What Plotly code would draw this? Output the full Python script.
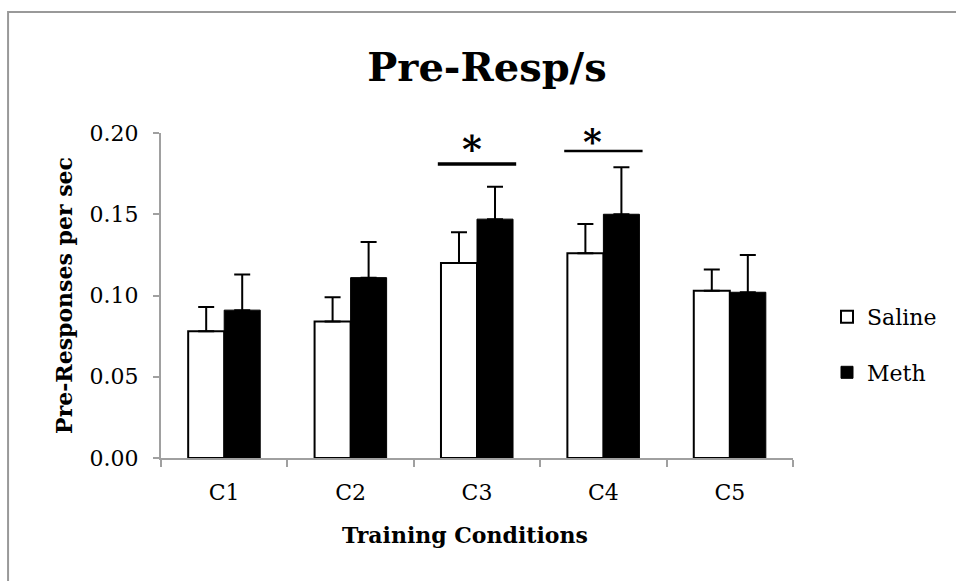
import plotly.graph_objects as go

categories = ["C1", "C2", "C3", "C4", "C5"]
saline = [0.078, 0.084, 0.120, 0.126, 0.103]
saline_err = [0.015, 0.015, 0.019, 0.018, 0.013]
meth = [0.091, 0.111, 0.147, 0.150, 0.102]
meth_err = [0.022, 0.022, 0.020, 0.029, 0.023]
y_ticks = [0.00, 0.05, 0.10, 0.15, 0.20]
sig_categories = ["C3", "C4"]
sig_heights = [0.181, 0.189]

FONT = "DejaVu Serif"
GRAY = "#a0a0a0"

fig = go.Figure()
fig.add_trace(go.Bar(
    name="Saline", x=categories, y=saline, legendgroup="s",
    marker=dict(color="white", line=dict(color="black", width=2)),
    error_y=dict(type="data", symmetric=False, array=saline_err,
                 arrayminus=[0] * len(saline), color="black", thickness=2, width=8),
))
fig.add_trace(go.Bar(
    name="Meth", x=categories, y=meth, legendgroup="m",
    marker=dict(color="black", line=dict(color="black", width=1)),
    error_y=dict(type="data", symmetric=False, array=meth_err,
                 arrayminus=[0] * len(meth), color="black", thickness=2, width=8),
))

shapes = []
annotations = []
line_widths = [3.5, 2.5]
star_dx = [-0.037, -0.085]
star_shift = [-9, -13]
star_sizes = [38, 36]
for cat, h, lw, dx, sh, ss in zip(sig_categories, sig_heights, line_widths,
                                  star_dx, star_shift, star_sizes):
    i = categories.index(cat)
    shapes.append(dict(type="line", xref="x", yref="y", x0=i - 0.31, x1=i + 0.31,
                       y0=h, y1=h, line=dict(color="black", width=lw)))
    annotations.append(dict(text="<b>*</b>", xref="x", yref="y", x=i + dx, y=h,
                            yanchor="bottom", xanchor="center", showarrow=False,
                            yshift=sh, font=dict(family=FONT, size=ss, color="black")))

# chart frame (left and top edges visible)
shapes.append(dict(type="rect", xref="paper", yref="paper",
                   x0=-0.242, x1=1.6, y0=-1.0, y1=1.372,
                   line=dict(color="#999999", width=2), layer="below"))

annotations.append(dict(text="<b>Training Conditions</b>", xref="paper", yref="paper",
                        x=(465 - 161) / 632, y=-(535 - 458) / 325, xanchor="center",
                        yanchor="middle", showarrow=False,
                        font=dict(family=FONT, size=22, color="black")))

fig.update_layout(
    width=956, height=581,
    margin=dict(l=161, r=163, t=133, b=123, autoexpand=False),
    paper_bgcolor="white", plot_bgcolor="white",
    barmode="group", bargap=0.43, bargroupgap=0,
    title=dict(text="<b>Pre-Resp/s</b>", x=487 / 956, xanchor="center",
               y=1 - 67 / 581, yanchor="middle", yref="container",
               font=dict(family=FONT, size=40, color="black")),
    font=dict(family=FONT, color="black"),
    legend=dict(x=(827 - 161) / 632, xanchor="left", y=0.348, yanchor="middle",
                tracegroupgap=24, font=dict(family=FONT, size=22, color="black"),
                bgcolor="rgba(0,0,0,0)"),
    xaxis=dict(range=[-0.5, 4.5], showline=True, linecolor=GRAY, linewidth=2,
               ticks="outside", tickson="boundaries", ticklen=7, tickcolor=GRAY,
               tickwidth=2, tickfont=dict(family=FONT, size=22, color="black"),
               ticklabelstandoff=14, showgrid=False, zeroline=False, automargin=False),
    yaxis=dict(range=[0, 0.2], tickvals=y_ticks, ticktext=[f"{v:.2f}" for v in y_ticks],
               showline=True, linecolor=GRAY, linewidth=2, ticks="outside",
               ticklen=6, tickcolor=GRAY, tickwidth=2,
               tickfont=dict(family=FONT, size=22, color="black"),
               ticklabelstandoff=10, showgrid=False, zeroline=False, automargin=False,
               title=dict(text="<b>Pre-Responses per sec</b>", standoff=11,
                          font=dict(family=FONT, size=22, color="black"))),
    shapes=shapes, annotations=annotations,
)

fig.write_html("out.html")
